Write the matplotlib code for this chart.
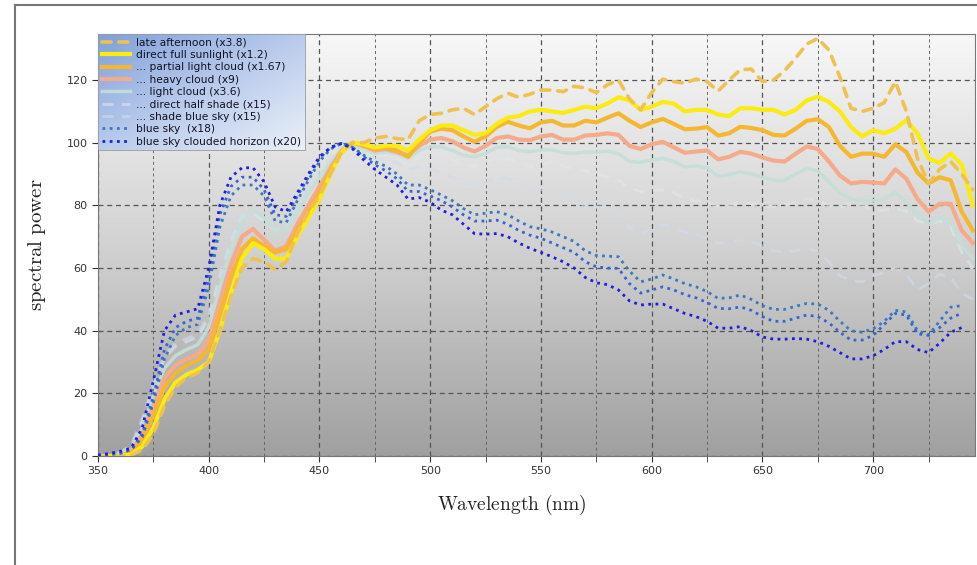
# spectral power of daylight under several sky conditions, normalised to 100 at ~465 nm
import numpy as np
import matplotlib.pyplot as plt
from matplotlib.colors import LinearSegmentedColormap
from matplotlib.lines import Line2D
from matplotlib.ticker import MultipleLocator

plt.rcParams['mathtext.fontset'] = 'cm'
plt.rcParams['font.family'] = 'DejaVu Sans'

nan = np.nan
wavelength = list(range(350, 750, 5))

late_afternoon = [0, 0, 0, 0.3, 2, 7, 16, 22, 25, 26.5, 30, 40, 51, 60, 63, 62, 59.5, 62, 71, 78,
                  83, 90, 97, 100, 100, 101.5, 102, 101.3, 101, 107, 109, 109.4, 110.5, 111, 109, 111.5, 114, 115.8, 114.5, 115.5,
                  116.8, 116.8, 116.3, 118, 117.5, 116, 118.5, 120, 114, 110.5, 116, 120.3, 119.5, 119, 120.3, 119.5, 116.5, 120, 123.3, 123.5,
                  119.5, 120, 123, 127, 131.5, 133.3, 129.6, 121, 111, 110, 111, 112.8, 119.5, 110, 95, 87, 91.5, 94, 90, 85]
full_sun = [0, 0, 0, 0.5, 3, 9, 18, 23.5, 26, 27.5, 30, 40, 52, 63, 68, 66, 63, 63, 70, 76,
            82, 90, 97, 100, 99.5, 98.5, 99, 99, 97.5, 101, 104, 105.5, 105.5, 104, 102.5, 103, 106, 108, 108.5, 110,
            110.5, 110, 109.5, 110.5, 111.5, 111, 112.5, 114.5, 113.5, 110.5, 111.5, 113, 112.5, 110, 110.5, 110.5, 109, 108.5, 111, 111,
            110.5, 110.5, 109, 110.5, 113.5, 114.7, 113, 110, 105, 102, 104, 103, 104.5, 107.2, 103, 95, 93.5, 96.6, 93, 80]
partial_cloud = [0, 0, 0, 1, 5, 13, 22, 26.5, 29, 30.5, 34, 45, 57, 66, 69.5, 67, 65, 66, 72, 78,
                 84, 91, 97, 100, 99, 98, 98.5, 97.5, 95.5, 100, 103.5, 104.5, 104, 102, 100.3, 102, 105, 106.7, 105.5, 104.6,
                 106.5, 107, 105.5, 105.5, 107, 106.5, 108, 109.4, 107, 105, 106.5, 107.6, 106, 104.3, 104.5, 105, 102.3, 103, 105.1, 104.7,
                 104, 102.5, 102.3, 104.5, 107, 107.5, 105, 99, 95.5, 96.5, 96.5, 95.5, 99.5, 97, 90.5, 87, 89, 88, 78, 72]
heavy_cloud = [0, 0, 0, 1.5, 7, 16, 25, 29, 31, 32.5, 37, 49, 61, 70, 72.5, 69, 65.5, 67, 74, 80,
               86, 92, 97.5, 100, 99, 97.5, 98, 97, 96, 99, 101, 101.5, 100.5, 98.5, 97.2, 99, 101.5, 102, 101, 100.8,
               102, 102.5, 101, 101, 102.3, 102.5, 103, 102.5, 99, 98, 99.5, 100.3, 98.5, 96.8, 97.2, 97.5, 94.7, 95.5, 97.1, 96.5,
               95.3, 94.3, 94, 96.5, 98.8, 98, 94, 89.5, 87, 87.5, 87.3, 87, 91.5, 88.5, 82, 78, 80.5, 80.5, 72, 68]
light_cloud = [0, 0, 0.5, 2, 9, 19, 28, 32, 34, 35.5, 41, 54, 66, 75, 78.5, 76, 72, 72.5, 78, 84,
               89, 94, 98, 99.5, 98, 96.5, 97, 96.5, 95, 97.5, 98.7, 98.7, 97.5, 96, 95.5, 96.5, 98.5, 98.7, 97.5, 97.1,
               97.7, 97.7, 96.8, 96.6, 97, 97, 97.3, 96.5, 94, 93.7, 94.5, 95, 94, 92.3, 92.6, 92, 89.2, 89.8, 90.7, 90,
               89, 88, 88, 90, 91.8, 91, 87.5, 84, 82, 81.5, 81.5, 82, 84.2, 81, 77, 74, 76, 75, 67, 63]
half_shade = [0, 0.2, 1, 3, 11, 22, 31, 35, 36.5, 38, 44, 57, 68, 76, 77.5, 75, 72, 73, 78.5, 84.5,
              90, 95, 99, 99.5, 97.5, 96, 96, 95, 93, 95.5, 96, 96, 94.5, 93, 92.3, 93.5, 95, 95, 93.5, 92.3,
              93, 93.9, 92.5, 91.5, 91, 90, 89, 88, 85.5, 84.4, 84.8, 85, 84, 82.2, 81.5, 81, 79.6, 79.8, 81, 80.5,
              79.8, 79.6, 80, 81, 82.2, 81.5, 80, 79.5, 80.5, 80, 78.5, 78.5, 79, 78, 75, 74, 75, 73, 65, 60]
shade_blue_sky = [0, 0.3, 1.2, 3.5, 12, 23, 32, 36, 37.5, 39, 45, 58, 69, 77, 78.5, 76, 72.5, 73, 79, 85,
                  90.5, 95.5, 99, 99.5, 97, 95, 94.5, 93.5, 91.5, 92.3, 91.5, 90.5, 89, 87.5, 86.5, 87.5, 89, 88.5, 87, 85.4,
                  85, 84.5, 83.5, 82, 79.6, 79.5, 79.6, 77, 73, 71, 72.5, 74, 73, 71.5, 70.5, 69.5, 68, 68, 69, 68.5,
                  67, 65.5, 65.2, 65.5, 66, 65.5, 62, 57.5, 56, 55.6, 57.5, 58.5, 60, 58, 53, 55, 58, 57, 52, 50]
blue_sky = [0.2, 0.4, 0.8, 2, 6, 17, 31, 38.5, 41, 42, 54, 73, 83, 86.5, 86.5, 83, 75, 74.5, 81.5, 88,
            94, 98, 99.8, 98.5, 96, 94, 92.5, 90, 86.5, 86.5, 85, 83.3, 81.5, 79, 77, 77.5, 78, 77, 75, 73.2,
            72.5, 71.5, 70, 68.5, 65.5, 64, 63.8, 63.6, 59, 55.6, 56.5, 57.8, 56.5, 55, 54, 52.5, 50.3, 50.5, 51.4, 50,
            48, 46.8, 46.8, 47.8, 48.7, 48.5, 46.5, 43, 40, 39.5, 40.6, 43, 46.5, 46, 40, 38.6, 43, 47.5, 48, nan]
blue_sky_mid = [0.2, 0.5, 1, 2, 7, 19, 34, 41, 43, 44, 57, 77, 86, 89, 89, 85, 77, 76.5, 83, 89,
                95, 98.5, 99.8, 98.5, 95.5, 93, 91, 88.5, 84.5, 84.4, 83, 81.5, 79.5, 77, 75, 75, 75.3, 74, 72, 70.5,
                69.5, 68, 66.5, 65, 62, 60.4, 60, 59.9, 55, 52, 53, 54, 53, 51.5, 50.5, 49, 47.1, 47, 47.6, 46.5,
                44.5, 43, 43, 44, 45, 44.5, 42.5, 39.5, 37, 37, 38.5, 42, 45.5, 45, 39, 38.5, 41, 44, 45.6, nan]
clouded_horizon = [0.3, 0.8, 1.5, 2.5, 9, 24, 40, 45, 46, 47, 60, 80, 89, 92, 92, 87.5, 79.5, 78, 84, 90,
                   95.5, 98.5, 99.8, 98, 94.5, 91.5, 89, 86.5, 82, 82.5, 81, 78.5, 77, 74, 71, 70.8, 71, 70, 68, 66.3,
                   65, 63.6, 62, 60, 57, 55.3, 54.7, 53, 49.5, 48.2, 48.5, 48.5, 47, 45.5, 44.5, 43, 40.8, 40.8, 41.3, 40,
                   38, 37.3, 37.3, 37.5, 37.3, 36.5, 35, 33, 31, 31, 32, 34, 36.5, 36.5, 34, 33, 36, 39.5, 41, nan]

fig = plt.figure(figsize=(9.77, 5.65), dpi=100)
ax = fig.add_axes([0.1003, 0.1929, 0.8977, 0.7469])

# grey gradient background
bg = LinearSegmentedColormap.from_list('bg', ['#a0a0a0', '#d2d2d2', '#f7f7f7'])
ax.imshow(np.linspace(0, 1, 256).reshape(-1, 1)[::-1], extent=[0, 1, 0, 1], transform=ax.transAxes,
          cmap=bg, aspect='auto', zorder=0)

ax.plot(wavelength, half_shade, color='#dfe7f0', lw=2, ls=(0, (4, 3)), alpha=0.6, zorder=2,
        label='... direct half shade (x15)')
ax.plot(wavelength, shade_blue_sky, color='#cfdcec', lw=2, ls=(0, (4, 3)), alpha=0.6, zorder=2,
        label='... shade blue sky (x15)')
ax.plot(wavelength, light_cloud, color='#c4dfd8', lw=2.5, alpha=0.9, zorder=2.1, label='... light cloud (x3.6)')
ax.plot(wavelength, heavy_cloud, color='#f5aa8c', lw=3, zorder=2.2, label='... heavy cloud (x9)')
ax.plot(wavelength, partial_cloud, color='#f5b730', lw=3, zorder=2.3, label='... partial light cloud (x1.67)')
ax.plot(wavelength, full_sun, color='#fbeb10', lw=3, zorder=2.4, label='direct full sunlight (x1.2)')
ax.plot(wavelength, late_afternoon, color='#eec250', lw=2.6, ls=(0, (2.5, 2.2)), dash_capstyle='round',
        zorder=2.5, label='late afternoon (x3.8)')
ax.plot(wavelength, blue_sky, color='#3a78c0', lw=2, ls=(0, (1, 1.6)), zorder=2.6, label='blue sky  (x18)')
ax.plot(wavelength, blue_sky_mid, color='#3565d5', lw=2, ls=(0, (1, 1.6)), zorder=2.6, label='_nolegend_')
ax.plot(wavelength, clouded_horizon, color='#1e1ede', lw=2, ls=(0, (1, 1.6)), zorder=2.7,
        label='blue sky clouded horizon (x20)')

ax.set_xlim(350, 746)
ax.set_ylim(0, 134.7)
ax.xaxis.set_major_locator(MultipleLocator(50))
ax.xaxis.set_minor_locator(MultipleLocator(25))
ax.yaxis.set_major_locator(MultipleLocator(20))
ax.set_axisbelow(True)
ax.grid(which='major', color='#555555', lw=0.9, ls=(0, (4, 3)))
ax.grid(which='minor', axis='x', color='#666666', lw=0.7, ls=(0, (3, 3)))
ax.tick_params(which='both', direction='out', length=4, labelsize=8, colors='#333333')
ax.tick_params(axis='y', which='minor', left=False)
for s in ax.spines.values():
    s.set_color('#777777')

ax.set_xlabel(r'$\mathrm{Wavelength\ (nm)}$', fontsize=14, color='#222222')
ax.set_ylabel(r'$\mathrm{spectral\ power}$', fontsize=15, color='#222222')
ax.xaxis.set_label_coords(0.472, -0.088)
ax.yaxis.set_label_coords(-0.057, 0.5)

h, l = ax.get_legend_handles_labels()
order = ['late afternoon (x3.8)', 'direct full sunlight (x1.2)', '... partial light cloud (x1.67)',
         '... heavy cloud (x9)', '... light cloud (x3.6)', '... direct half shade (x15)',
         '... shade blue sky (x15)', 'blue sky  (x18)', 'blue sky clouded horizon (x20)']
hd = dict(zip(l, h))
leg = ax.legend([hd[k] for k in order], order, loc='upper left', borderaxespad=0, fontsize=7.7,
                labelspacing=0.22, handlelength=2.6, handletextpad=0.6, borderpad=0.35,
                fancybox=False, framealpha=1)
leg.get_frame().set_facecolor('none')
leg.get_frame().set_edgecolor('#9a9a9a')
leg.get_frame().set_linewidth(0.6)
for t in leg.get_texts():
    t.set_color('#111122')

# blue gradient behind legend
fig.canvas.draw()
bb = leg.get_window_extent().transformed(ax.transAxes.inverted())
gx, gy = np.meshgrid(np.linspace(0, 1, 200), np.linspace(0, 1, 100))
lg = LinearSegmentedColormap.from_list('lg', ['#7f9fd9', '#b9cbec', '#eaf0f8'])
ax.imshow((gx + gy) / 2, extent=[bb.x0, bb.x1, bb.y0, bb.y1], transform=ax.transAxes,
          cmap=lg, aspect='auto', zorder=4.9, origin='upper')
ax.set_xlim(350, 746)
ax.set_ylim(0, 134.7)

# page border
fig.add_artist(Line2D([0.0154, 1.0], [0.991, 0.991], color='#777777', lw=1.5))
fig.add_artist(Line2D([0.0154, 0.0154], [0.0, 0.991], color='#777777', lw=1.5))

fig.savefig('out.png', dpi=100)
